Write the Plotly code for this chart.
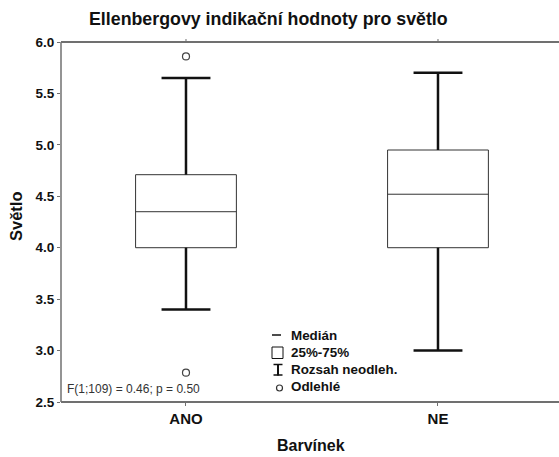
import plotly.graph_objects as go

# Summary statistics per group
categories = ["ANO", "NE"]
q1 = [4.00, 4.00]
median = [4.35, 4.52]
q3 = [4.71, 4.95]
whisker_low = [3.40, 3.00]
whisker_high = [5.65, 5.70]
outliers_ano = [5.86, 2.785]
outliers_ne = []

y_ticks = [2.5, 3.0, 3.5, 4.0, 4.5, 5.0, 5.5, 6.0]
stat_text = "F(1;109) = 0.46; p = 0.50"

FONT = "Liberation Sans, Arial, sans-serif"
# the plot area runs slightly past the visible page width on the right
W, H = 565, 457
ML, MR, MT, MB = 61, 0, 42, 55
PW, PH = W - ML - MR, H - MT - MB


def px(x):
    return (x - ML) / PW


def py(y):
    return (H - MB - y) / PH


pos = list(range(len(categories)))
box_w = 0.40
cap = 0.097

fig = go.Figure()

# boxes (quartiles + median), thin outline
fig.add_trace(go.Box(
    x=pos, q1=q1, median=median, q3=q3,
    lowerfence=q1, upperfence=q3,
    width=box_w, whiskerwidth=0,
    line=dict(color="#333333", width=1),
    fillcolor="white", boxpoints=False,
    showlegend=False, hoverinfo="skip",
))

# whiskers with caps, thick lines
wx, wy = [], []
for p, lo, a, b, hi in zip(pos, whisker_low, q1, q3, whisker_high):
    wx += [p, p, None, p, p, None, p - cap, p + cap, None, p - cap, p + cap, None]
    wy += [lo, a, None, b, hi, None, lo, lo, None, hi, hi, None]
fig.add_trace(go.Scatter(
    x=wx, y=wy, mode="lines",
    line=dict(color="#111111", width=2.5),
    showlegend=False, hoverinfo="skip",
))

# outliers
ox, oy = [], []
for p, vals in zip(pos, [outliers_ano, outliers_ne]):
    for v in vals:
        ox.append(p)
        oy.append(v)
fig.add_trace(go.Scatter(
    x=ox, y=oy, mode="markers",
    marker=dict(symbol="circle-open", size=7, color="#444444", line=dict(width=1.2)),
    showlegend=False, hoverinfo="skip",
))

axis_col = "#707070"
fig.update_xaxes(
    range=[-0.496, 1.504], tickvals=pos, ticktext=categories,
    showline=False, mirror=False,
    ticks="outside", ticklen=3, tickcolor=axis_col,
    showgrid=False, zeroline=False, showspikes=False,
    tickfont=dict(family=FONT, size=15, color="#111111", weight="bold"),
)
fig.update_yaxes(
    range=[2.5, 6.0], tickvals=y_ticks, ticktext=[f"{v:.1f}" for v in y_ticks],
    showline=False, mirror=False,
    ticks="outside", ticklen=3, tickcolor=axis_col,
    showgrid=False, zeroline=False, showspikes=False,
    tickfont=dict(family=FONT, size=13.5, color="#111111", weight="bold"),
)

ann = []
ann.append(dict(text="Ellenbergovy indikační hodnoty pro světlo", x=px(268), y=py(19),
                font=dict(family=FONT, size=17.8, color="#111111", weight="bold")))
ann.append(dict(text="Barvínek", x=px(311), y=py(445),
                font=dict(family=FONT, size=16, color="#111111", weight="bold")))
ann.append(dict(text="Světlo", x=px(16), y=py(216), textangle=-90,
                font=dict(family=FONT, size=16.5, color="#111111", weight="bold")))
ann.append(dict(text=stat_text, x=px(65), y=py(389), xanchor="left",
                font=dict(family=FONT, size=12, color="#333333")))

legend_items = ["Medián", "25%-75%", "Rozsah neodleh.", "Odlehlé"]
legend_rows = [335, 352.5, 369.5, 386.5]
for t, yy in zip(legend_items, legend_rows):
    ann.append(dict(text=t, x=px(289), y=py(yy), xanchor="left",
                    font=dict(family=FONT, size=13.4, color="#111111", weight="bold")))
for a in ann:
    a.update(xref="paper", yref="paper", showarrow=False)
    a.setdefault("xanchor", "center")
    a.setdefault("yanchor", "middle")

shapes = []
# frame: left, bottom and top lines
shapes.append(dict(type="line", xref="paper", yref="paper", x0=0, x1=1, y0=1, y1=1,
                   line=dict(color=axis_col, width=2)))
shapes.append(dict(type="line", xref="paper", yref="paper", x0=0, x1=1, y0=0, y1=0,
                   line=dict(color=axis_col, width=2)))
shapes.append(dict(type="line", xref="paper", yref="paper", x0=0, x1=0, y0=0, y1=1,
                   line=dict(color=axis_col, width=1.5)))
for p in pos:
    shapes.append(dict(type="line", xref="x", yref="paper", x0=p, x1=p,
                       y0=1, y1=1 + 3 / PH, line=dict(color=axis_col, width=1)))

lc = "#111111"
legend_shapes = []
# median symbol
legend_shapes.append(dict(type="line", x0=px(272), x1=px(281), y0=py(335), y1=py(335),
                          line=dict(color=lc, width=1.5)))
# box symbol
legend_shapes.append(dict(type="rect", x0=px(272), x1=px(283), y0=py(347), y1=py(358.5),
                          line=dict(color=lc, width=1)))
# whisker symbol
legend_shapes.append(dict(type="line", x0=px(278), x1=px(278), y0=py(364), y1=py(375.5),
                          line=dict(color=lc, width=2)))
legend_shapes.append(dict(type="line", x0=px(273.5), x1=px(282.5), y0=py(364.5), y1=py(364.5),
                          line=dict(color=lc, width=1.5)))
legend_shapes.append(dict(type="line", x0=px(273.5), x1=px(282.5), y0=py(375), y1=py(375),
                          line=dict(color=lc, width=1.5)))
# outlier symbol
legend_shapes.append(dict(type="circle", x0=px(276.5), x1=px(282.5), y0=py(385), y1=py(391),
                          line=dict(color="#333333", width=1.2)))
for s in legend_shapes:
    s.update(xref="paper", yref="paper")
shapes += legend_shapes

fig.update_layout(
    width=W, height=H,
    margin=dict(l=ML, r=MR, t=MT, b=MB),
    paper_bgcolor="white", plot_bgcolor="white",
    annotations=ann, shapes=shapes,
    showlegend=False, hovermode=False, dragmode=False,
)

fig.write_html(
    "out.html",
    config={"staticPlot": True, "displayModeBar": False},
    post_script="document.body.style.margin='0';document.body.style.overflow='hidden';"
                "document.documentElement.style.overflow='hidden';",
)
